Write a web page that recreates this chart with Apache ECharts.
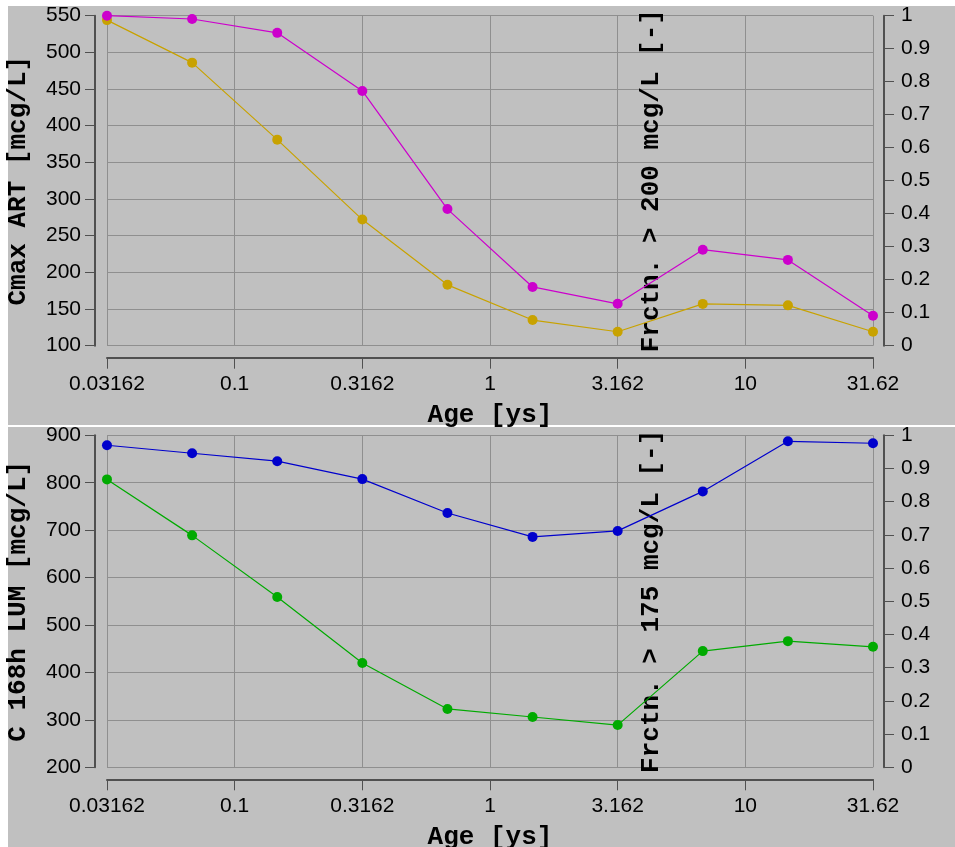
<!DOCTYPE html>
<html>
<head>
<meta charset="utf-8">
<script src="https://cdn.jsdelivr.net/npm/echarts@6/dist/echarts.min.js"></script>
<style>
  html, body { margin: 0; padding: 0; background: #ffffff; }
  #wrap { position: relative; width: 955px; height: 847px; background: #ffffff; overflow: hidden; }
  .panel { position: absolute; background: #c0c0c0; }
  #chart { position: absolute; left: 0; top: 0; width: 955px; height: 847px; }
</style>
</head>
<body>
<div id="wrap">
  <div class="panel" style="left:8px; top:6px; width:947px; height:419px;"></div>
  <div class="panel" style="left:8px; top:427px; width:947px; height:420px;"></div>
  <div id="chart"></div>
</div>
<script>
// ---- data ----
const ages = [0.03162, 0.06813, 0.1468, 0.3162, 0.6813, 1.468, 3.162, 6.813, 14.68, 31.62];
const cmaxArt = [544, 486, 381, 272, 183, 135, 119, 157, 155, 119];
const fracArt200 = [1.0, 0.99, 0.948, 0.772, 0.414, 0.178, 0.127, 0.291, 0.26, 0.091];
const c168Lum = [807, 689, 559, 420, 323, 306, 289, 445, 466, 454];
const fracLum175 = [0.97, 0.946, 0.922, 0.868, 0.766, 0.694, 0.712, 0.831, 0.982, 0.976];
const xTickLabels = ['0.03162', '0.1', '0.3162', '1', '3.162', '10', '31.62'];
const xTitle = 'Age [ys]';
const topLeftTitle = 'Cmax ART [mcg/L]';
const topRightTitle = 'Frctn. > 200 mcg/L [-]';
const botLeftTitle = 'C 168h LUM [mcg/L]';
const botRightTitle = 'Frctn. > 175 mcg/L [-]';

const pairs = (xs, ys) => xs.map((x, i) => [x, ys[i]]);
const tickFont = { fontFamily: 'Liberation Sans', fontSize: 21, color: '#000' };
const nameFont = { fontFamily: 'Liberation Mono', fontSize: 26, fontWeight: 'bold', color: '#000', verticalAlign: 'middle' };
const axisLineCol = '#505050';
const gridCol = '#8f8f8f';

function xLabel(v) {
  let best = xTickLabels[0], bd = Infinity;
  xTickLabels.forEach(s => {
    const d = Math.abs(Math.log10(parseFloat(s)) - Math.log10(v));
    if (d < bd) { bd = d; best = s; }
  });
  return best;
}

function xAxisFor(gi) {
  return {
    type: 'log', gridIndex: gi, logBase: Math.sqrt(10),
    min: Math.pow(10, -1.5), max: Math.pow(10, 1.5),
    offset: 12,
    name: xTitle, nameLocation: 'middle', nameGap: 58, nameTextStyle: nameFont,
    axisLine: { show: true, onZero: false, lineStyle: { color: axisLineCol, width: 2 } },
    axisTick: { show: true, length: 11, lineStyle: { color: axisLineCol, width: 1 } },
    axisLabel: Object.assign({ margin: 16, formatter: xLabel }, tickFont),
    splitLine: { show: true, lineStyle: { color: gridCol, width: 1 } },
    minorTick: { show: false }
  };
}
function leftY(gi, min, max, interval, name) {
  return {
    type: 'value', gridIndex: gi, position: 'left', min, max, interval, offset: 12,
    name, nameLocation: 'middle', nameGap: 77, nameTextStyle: nameFont,
    axisLine: { show: true, lineStyle: { color: axisLineCol, width: 2 } },
    axisTick: { show: true, length: 10, lineStyle: { color: axisLineCol, width: 1 } },
    axisLabel: Object.assign({ margin: 14 }, tickFont),
    splitLine: { show: true, lineStyle: { color: gridCol, width: 1 } }
  };
}
function rightY(gi, name) {
  return {
    type: 'value', gridIndex: gi, position: 'right', min: 0, max: 1, interval: 0.1, offset: 11,
    name, nameLocation: 'middle', nameGap: -233, nameTextStyle: nameFont,
    axisLine: { show: true, lineStyle: { color: axisLineCol, width: 2 } },
    axisTick: { show: true, length: 10, lineStyle: { color: axisLineCol, width: 1 } },
    axisLabel: Object.assign({ margin: 17 }, tickFont),
    splitLine: { show: false }
  };
}
function lineSeries(xi, yi, data, color) {
  return {
    type: 'line', xAxisIndex: xi, yAxisIndex: yi, data,
    symbol: 'circle', symbolSize: 10, showSymbol: true,
    lineStyle: { color, width: 1.2 }, itemStyle: { color },
    emphasis: { disabled: true }, z: 5
  };
}

const chart = echarts.init(document.getElementById('chart'), null, { renderer: 'canvas' });
chart.setOption({
  animation: false,
  backgroundColor: 'transparent',
  grid: [
    { left: 107, right: 82, top: 15.7, height: 330, outerBoundsMode: 'none', containLabel: false },
    { left: 107, right: 82, top: 435.3, height: 332, outerBoundsMode: 'none', containLabel: false }
  ],
  xAxis: [xAxisFor(0), xAxisFor(1)],
  yAxis: [
    leftY(0, 100, 550, 50, topLeftTitle),
    rightY(0, topRightTitle),
    leftY(1, 200, 900, 100, botLeftTitle),
    rightY(1, botRightTitle)
  ],
  series: [
    lineSeries(0, 0, pairs(ages, cmaxArt), '#c8a200'),
    lineSeries(0, 1, pairs(ages, fracArt200), '#cc00cc'),
    lineSeries(1, 2, pairs(ages, c168Lum), '#00aa00'),
    lineSeries(1, 3, pairs(ages, fracLum175), '#0000cc')
  ]
});
</script>
</body>
</html>
